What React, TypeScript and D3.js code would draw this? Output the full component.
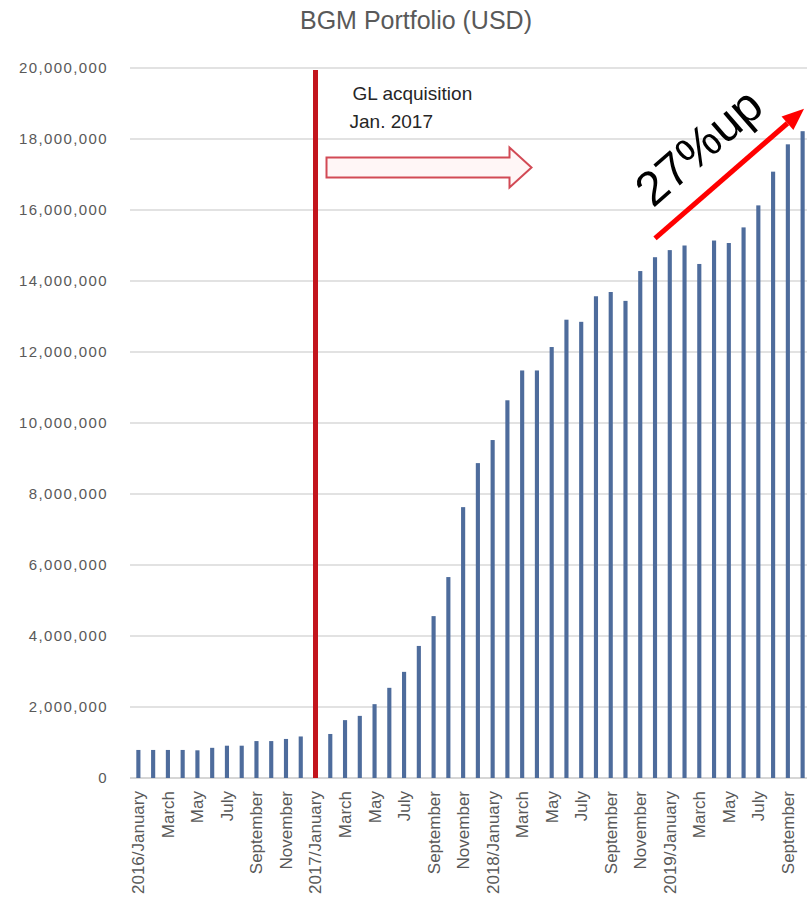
import * as d3 from 'd3'

// monthly categories, Jan 2016 .. Oct 2019
const monthNames = ['January', 'February', 'March', 'April', 'May', 'June', 'July', 'August', 'September', 'October', 'November', 'December']
const years = [2016, 2017, 2018, 2019]
const months: string[] = years.flatMap(y => monthNames.map((_, i) => `${y}-${String(i + 1).padStart(2, '0')}`)).slice(0, 46)
const monthLabels: string[] = years.flatMap(y => monthNames.map((m, i) => (i === 0 ? `${y}/${m}` : m))).slice(0, 46)

// portfolio in USD millions
const portfolio2016 = [0.79, 0.79, 0.79, 0.79, 0.78, 0.85, 0.91, 0.91, 1.04, 1.04, 1.10, 1.17]
const portfolio2017 = [1.20, 1.24, 1.63, 1.75, 2.08, 2.54, 2.99, 3.72, 4.56, 5.66, 7.63, 8.87]
const portfolio2018 = [9.52, 10.64, 11.48, 11.48, 12.14, 12.91, 12.85, 13.57, 13.69, 13.44, 14.28, 14.67]
const portfolio2019 = [14.87, 15.00, 14.48, 15.14, 15.07, 15.51, 16.13, 17.08, 17.85, 18.22]
const values = [...portfolio2016, ...portfolio2017, ...portfolio2018, ...portfolio2019].map(v => v * 1e6)

const yTicks = d3.range(0, 20000001, 2000000)
const eventIndex = 12 // 2017/January
const growthFrom = { i: 35, v: 15.2e6 }
const growthTo = { i: 45.1, v: 18.85e6 }

const W = 807
const H = 910
const grey = '#595959'

export default function App() {
  const x = d3.scaleBand<string>()
    .domain(months)
    .range([131, 810])
    .paddingInner(0.72)
    .paddingOuter(0.36)
  const y = d3.scaleLinear().domain([0, 20000000]).range([778, 68])
  const cx = (i: number) => (x(months[0]) as number) + x.bandwidth() / 2 + i * x.step()
  const fmt = d3.format(',')

  const redX = cx(eventIndex)
  const ay = y(17.2e6)
  const x0 = redX + 11
  const hollow = `M${x0},${ay - 10} L${redX + 194},${ay - 10} L${redX + 194},${ay - 20} L${redX + 216},${ay} L${redX + 194},${ay + 20} L${redX + 194},${ay + 10} L${x0},${ay + 10} Z`

  const sx = cx(growthFrom.i), sy = y(growthFrom.v)
  const ex = cx(growthTo.i), ey = y(growthTo.v)
  const ang = Math.atan2(ey - sy, ex - sx)
  const head = 22
  const hx = ex - head * Math.cos(ang), hy = ey - head * Math.sin(ang)
  const px = Math.sin(ang) * 9, py = -Math.cos(ang) * 9
  const deg = ang * 180 / Math.PI

  return (
    <svg width={W} height={H} style={{ position: 'absolute', left: 0, top: 0, background: '#fff' }}
      fontFamily="'Liberation Sans', Arial, sans-serif">
      <text x={416} y={29} textAnchor="middle" fontSize={25} fill={grey}>BGM Portfolio (USD)</text>

      {yTicks.map(t => (
        <g key={t}>
          <line x1={130} x2={W} y1={y(t)} y2={y(t)} stroke={t === 0 ? '#c8c8c8' : '#d9d9d9'} strokeWidth={1.5} />
          <text x={108} y={y(t)} dy="0.35em" textAnchor="end" fontSize={15} letterSpacing={1.4} fill={grey}>{fmt(t)}</text>
        </g>
      ))}

      {values.map((v, i) => (
        <rect key={months[i]} x={x(months[i])} y={y(v)} width={x.bandwidth()} height={y(0) - y(v)} fill="#4e6c9c" />
      ))}

      {monthLabels.map((c, i) => i % 2 === 0 && (
        <text key={months[i]} transform={`translate(${cx(i)},791) rotate(-90)`} dy="0.35em" textAnchor="end"
          fontSize={17} fill={grey}>{c}</text>
      ))}

      <line x1={redX} x2={redX} y1={y(20000000) + 2} y2={y(0)} stroke="#c3151d" strokeWidth={5} />

      <text x={redX + 37} y={100} fontSize={19} fill="#262626">GL acquisition</text>
      <text x={redX + 34} y={128} fontSize={19} fill="#262626">Jan. 2017</text>
      <path d={hollow} fill="#fff6f6" stroke="#d24a55" strokeWidth={2} />

      <line x1={sx} y1={sy} x2={hx} y2={hy} stroke="#ff0000" strokeWidth={5} />
      <path d={`M${ex},${ey} L${hx + px},${hy + py} L${hx - px},${hy - py} Z`} fill="#ff0000" />
      <text transform={`translate(${sx - 2},${sy - 30}) rotate(${deg})`} fontSize={48} fill="#000">27%up</text>
    </svg>
  )
}
